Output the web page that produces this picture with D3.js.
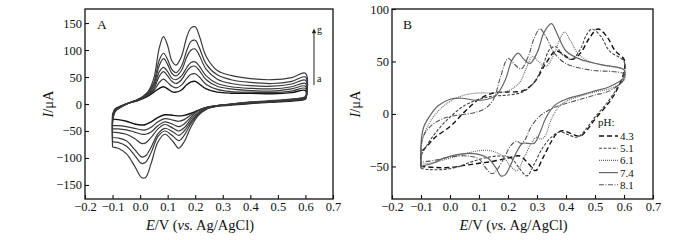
<!DOCTYPE html>
<html>
<head>
<meta charset="utf-8">
<script src="https://cdn.jsdelivr.net/npm/d3@7"></script>
<style>
  html, body { margin: 0; padding: 0; background: #fff; }
  svg text { font-family: "Liberation Serif", "Times New Roman", serif; fill: #111; }
</style>
</head>
<body>
<div id="chart"></div>
<script>
/* ── Panel A: CVs a→g, shared potential grid (forward sweep, then reverse) ── */
const A_E = [-0.1, -0.099, -0.09, -0.07, -0.04, -0.01, 0.01, 0.03, 0.05, 0.07, 0.085, 0.1, 0.115, 0.13, 0.15, 0.17, 0.185, 0.2, 0.215, 0.24, 0.28, 0.33, 0.4, 0.48, 0.55, 0.6,
             0.6, 0.58, 0.5, 0.4, 0.33, 0.28, 0.24, 0.21, 0.185, 0.16, 0.14, 0.12, 0.09, 0.065, 0.04, 0.02, 0.005, -0.02, -0.05, -0.08, -0.099, -0.1];
const A_a = [-28, -18, -9, -4, 2, 6, 10, 15, 22, 29, 32, 28, 23, 22, 26, 36, 41, 42, 37, 28, 22, 20, 20, 19, 21, 25,
             9, 7, 4, 1, -2, -4, -7, -12, -17, -21, -22, -21, -20, -25, -33, -38, -39, -37, -32, -29, -28, -28];
const A_b = [-40, -20, -10, -4, 2, 6, 11, 17, 25, 40, 46, 40, 33, 30, 35, 48, 55, 56, 50, 36, 27, 23, 22, 21, 24, 29,
             10, 8, 5, 2, -1, -3, -6, -12, -20, -29, -32, -30, -27, -33, -43, -48, -48, -45, -42, -40, -40, -40];
const A_c = [-46, -22, -10, -4, 2, 7, 12, 18, 28, 52, 60, 52, 42, 38, 45, 61, 69, 70, 62, 45, 33, 28, 25, 24, 28, 33,
             10, 8, 5, 2, -1, -3, -6, -13, -24, -37, -42, -38, -33, -40, -52, -56, -56, -52, -48, -46, -46, -46];
const A_d = [-52, -24, -11, -5, 2, 7, 12, 19, 32, 60, 68, 60, 48, 45, 52, 68, 77, 78, 70, 52, 38, 32, 29, 28, 32, 38,
             11, 9, 5, 2, -1, -3, -7, -16, -28, -44, -50, -45, -38, -46, -62, -72, -73, -64, -56, -53, -52, -52];
const A_e = [-62, -26, -12, -5, 2, 8, 13, 21, 36, 72, 84, 73, 57, 52, 62, 88, 100, 102, 90, 64, 46, 38, 34, 33, 37, 44,
             12, 10, 6, 3, 0, -3, -8, -18, -32, -50, -58, -52, -45, -55, -80, -96, -98, -84, -68, -63, -62, -62];
const A_f = [-70, -28, -13, -6, 2, 8, 13, 22, 40, 82, 94, 82, 64, 58, 70, 100, 116, 118, 104, 74, 54, 45, 40, 38, 42, 50,
             13, 10, 6, 3, 0, -4, -9, -20, -36, -58, -68, -60, -50, -60, -90, -108, -110, -95, -78, -71, -70, -70];
const A_g = [-80, -30, -14, -6, 2, 8, 14, 24, 48, 105, 125, 108, 80, 72, 88, 125, 141, 143, 126, 88, 62, 53, 47, 45, 49, 57,
             14, 11, 7, 4, 0, -4, -10, -22, -42, -70, -82, -70, -56, -70, -110, -136, -136, -115, -92, -82, -80, -80];

/* ── Panel B: CVs at five pH values, [E, I] pairs ── */
const B_PH = ["4.3", "5.1", "6.1", "7.4", "8.1"];
const B_43 = [[-0.1,-50],[-0.099,-37],[-0.08,-31],[-0.05,-22],[0.0,-12],[0.05,2],[0.1,14],[0.15,20],[0.2,21],[0.25,22],[0.29,30],[0.33,48],[0.365,60],[0.39,57],[0.42,52],[0.45,58],[0.48,72],[0.51,81],[0.54,74],[0.57,60],[0.6,52],
              [0.6,40],[0.57,20],[0.54,8],[0.5,-5],[0.47,-16],[0.45,-21],[0.42,-19],[0.39,-16],[0.37,-18],[0.35,-26],[0.32,-42],[0.295,-54],[0.27,-47],[0.24,-40],[0.2,-42],[0.15,-45],[0.1,-47],[0.05,-49],[0.0,-51],[-0.05,-51],[-0.1,-50]];
const B_51 = [[-0.1,-52],[-0.099,-40],[-0.08,-30],[-0.05,-18],[0.0,-3],[0.05,8],[0.1,14],[0.15,17],[0.2,18],[0.25,21],[0.29,30],[0.32,46],[0.345,62],[0.365,64],[0.39,56],[0.42,52],[0.45,62],[0.47,75],[0.49,81],[0.52,74],[0.55,60],[0.6,50],
              [0.6,38],[0.57,22],[0.54,10],[0.5,-3],[0.47,-14],[0.44,-22],[0.41,-20],[0.38,-17],[0.35,-22],[0.32,-32],[0.29,-48],[0.265,-59],[0.24,-52],[0.21,-42],[0.17,-40],[0.12,-42],[0.07,-46],[0.02,-51],[-0.03,-53],[-0.07,-53],[-0.1,-52]];
const B_61 = [[-0.1,-48],[-0.099,-30],[-0.09,-20],[-0.07,-8],[-0.04,3],[0.0,12],[0.05,18],[0.1,20],[0.15,20],[0.2,22],[0.24,30],[0.265,45],[0.285,55],[0.305,50],[0.33,45],[0.36,58],[0.38,72],[0.395,78],[0.415,70],[0.44,58],[0.48,50],[0.54,46],[0.6,42],
              [0.6,32],[0.55,24],[0.5,21],[0.45,17],[0.4,12],[0.37,5],[0.345,-8],[0.33,-20],[0.315,-24],[0.3,-22],[0.28,-28],[0.255,-42],[0.23,-54],[0.21,-50],[0.18,-40],[0.14,-35],[0.1,-35],[0.05,-38],[0.0,-42],[-0.05,-46],[-0.1,-48]];
const B_74 = [[-0.1,-50],[-0.099,-25],[-0.09,-12],[-0.07,-2],[-0.04,8],[0.0,14],[0.04,15],[0.09,13],[0.13,14],[0.16,18],[0.19,32],[0.215,52],[0.235,58],[0.255,52],[0.275,48],[0.3,58],[0.325,78],[0.35,86],[0.37,76],[0.4,60],[0.45,52],[0.52,47],[0.6,42],
              [0.6,35],[0.55,26],[0.5,22],[0.45,18],[0.4,14],[0.36,8],[0.33,-4],[0.31,-18],[0.29,-28],[0.27,-28],[0.25,-28],[0.23,-36],[0.21,-48],[0.19,-58],[0.175,-59],[0.16,-52],[0.13,-42],[0.09,-38],[0.04,-38],[-0.02,-42],[-0.06,-47],[-0.1,-50]];
const B_81 = [[-0.1,-46],[-0.099,-30],[-0.09,-20],[-0.06,-10],[-0.02,-4],[0.03,-1],[0.08,1],[0.12,5],[0.15,14],[0.175,36],[0.2,53],[0.22,48],[0.245,43],[0.27,55],[0.29,72],[0.31,81],[0.33,74],[0.36,58],[0.4,48],[0.48,42],[0.6,38],
              [0.6,33],[0.55,22],[0.5,18],[0.45,14],[0.4,10],[0.35,5],[0.31,-2],[0.28,-12],[0.26,-24],[0.245,-28],[0.23,-26],[0.21,-30],[0.19,-40],[0.165,-52],[0.145,-57],[0.125,-52],[0.1,-43],[0.06,-40],[0.0,-41],[-0.05,-44],[-0.1,-46]];

const X_TICKS = [-0.2, -0.1, 0.0, 0.1, 0.2, 0.3, 0.4, 0.5, 0.6, 0.7];
const A_Y_TICKS = [-150, -100, -50, 0, 50, 100, 150];
const B_Y_TICKS = [-50, 0, 50, 100];

const B_STYLE = {
  "4.3": { color: "#111", width: 1.4, dash: "5,3" },
  "5.1": { color: "#444", width: 1.1, dash: "3,1.6" },
  "6.1": { color: "#666", width: 1.1, dash: "1,1" },
  "7.4": { color: "#666", width: 1.2, dash: null },
  "8.1": { color: "#555", width: 1.1, dash: "5,1.5,1,1.5" },
};

/* ══════════════════════════════════
   Shared frame + axes
   ══════════════════════════════════ */
const svg = d3.select("#chart").append("svg").attr("width", 700).attr("height", 240);

function panel(box, yDomain, yTicks) {
  const w = box.right - box.left, h = box.bottom - box.top;
  const g = svg.append("g").attr("transform", `translate(${box.left},${box.top})`);
  const x = d3.scaleLinear().domain([-0.2, 0.7]).range([0, w]);
  const y = d3.scaleLinear().domain(yDomain).range([h, 0]);

  const ax = g.append("g").attr("transform", `translate(0,${h})`)
    .call(d3.axisBottom(x).tickValues(X_TICKS).tickSize(-4).tickPadding(3).tickFormat(d3.format(".1f")));
  const ay = g.append("g")
    .call(d3.axisLeft(y).tickValues(yTicks).tickSize(-4).tickPadding(3).tickFormat(d3.format("d")));
  [ax, ay].forEach(a => {
    a.select(".domain").remove();
    a.selectAll("line").attr("stroke", "#111").attr("stroke-width", 1.1);
    a.selectAll("text").style("font-size", "12.5px").style("font-family", "'Liberation Serif', serif").attr("fill", "#111");
  });

  /* x label */
  const xl = svg.append("text").attr("x", box.left + w / 2 - 9).attr("y", 230)
    .attr("text-anchor", "middle").style("font-size", "14.5px");
  xl.append("tspan").style("font-style", "italic").text("E");
  xl.append("tspan").text("/V (");
  xl.append("tspan").style("font-style", "italic").text("vs.");
  xl.append("tspan").text(" Ag/AgCl)");

  /* y label */
  const yl = svg.append("text")
    .attr("transform", `translate(${box.left - 32},${box.top + h / 2}) rotate(-90)`)
    .attr("text-anchor", "middle").style("font-size", "14.5px");
  yl.append("tspan").style("font-style", "italic").text("I");
  yl.append("tspan").text("/μA");

  return { g, x, y, w, h };
}

function frame(p) {
  p.g.append("rect").attr("x", 0).attr("y", 0).attr("width", p.w).attr("height", p.h)
    .attr("fill", "none").attr("stroke", "#111").attr("stroke-width", 1.3);
}

/* ══════════════════════════════════
   PANEL A
   ══════════════════════════════════ */
(function () {
  const p = panel({ left: 85, right: 333, top: 9, bottom: 199 }, [-176, 176], A_Y_TICKS);
  const line = d3.line().x(d => p.x(d[0])).y(d => p.y(d[1])).curve(d3.curveCatmullRom.alpha(0.5));
  const curves = [A_a, A_b, A_c, A_d, A_e, A_f, A_g].map(vals => A_E.map((e, i) => [e, vals[i]]));

  p.g.selectAll(".cvA").data(curves).enter().append("path").attr("class", "cvA")
    .attr("d", line).attr("fill", "none")
    .attr("stroke", (d, i) => i === 0 ? "#111" : "#3a3a3a")
    .attr("stroke-width", (d, i) => i === 0 ? 1.4 : 1.2);

  frame(p);

  p.g.append("text").attr("x", 12).attr("y", 20).style("font-size", "13.5px").text("A");

  /* a → g arrow */
  const ax = p.x(0.631);
  p.g.append("line").attr("x1", ax).attr("x2", ax).attr("y1", p.y(35)).attr("y2", p.y(133))
    .attr("stroke", "#222").attr("stroke-width", 1);
  p.g.append("path")
    .attr("d", `M${ax - 2.2},${p.y(131)} L${ax},${p.y(140)} L${ax + 2.2},${p.y(131)} Z`)
    .attr("fill", "#222");
  p.g.append("text").attr("x", ax + 3).attr("y", p.y(132)).style("font-size", "10px").text("g");
  p.g.append("text").attr("x", ax + 3).attr("y", p.y(40)).style("font-size", "10px").text("a");
})();

/* ══════════════════════════════════
   PANEL B
   ══════════════════════════════════ */
(function () {
  const p = panel({ left: 392, right: 653, top: 9, bottom: 199 }, [-81, 100], B_Y_TICKS);
  const line = d3.line().x(d => p.x(d[0])).y(d => p.y(d[1])).curve(d3.curveCatmullRom.alpha(0.5));
  const series = [B_43, B_51, B_61, B_74, B_81].map((pts, i) => ({ ph: B_PH[i], pts }));

  p.g.selectAll(".cvB").data(series).enter().append("path").attr("class", "cvB")
    .attr("d", d => line(d.pts)).attr("fill", "none")
    .attr("stroke", d => B_STYLE[d.ph].color)
    .attr("stroke-width", d => B_STYLE[d.ph].width)
    .attr("stroke-dasharray", d => B_STYLE[d.ph].dash);

  frame(p);

  p.g.append("text").attr("x", 11).attr("y", 20).style("font-size", "13.5px").text("B");

  /* legend */
  const lg = p.g.append("g").attr("transform", "translate(206,113)");
  lg.append("text").attr("x", 0).attr("y", 4).style("font-size", "11px").text("pH:");
  const rows = lg.selectAll(".lg").data(B_PH).enter().append("g")
    .attr("transform", (d, i) => `translate(0,${14 + i * 12.2})`);
  rows.append("line").attr("x1", 1).attr("x2", 20).attr("y1", 0).attr("y2", 0)
    .attr("stroke", d => B_STYLE[d].color)
    .attr("stroke-width", d => B_STYLE[d].width)
    .attr("stroke-dasharray", d => B_STYLE[d].dash);
  rows.append("text").attr("x", 22).attr("y", 4).style("font-size", "11px").text(d => d);
})();
</script>
</body>
</html>
